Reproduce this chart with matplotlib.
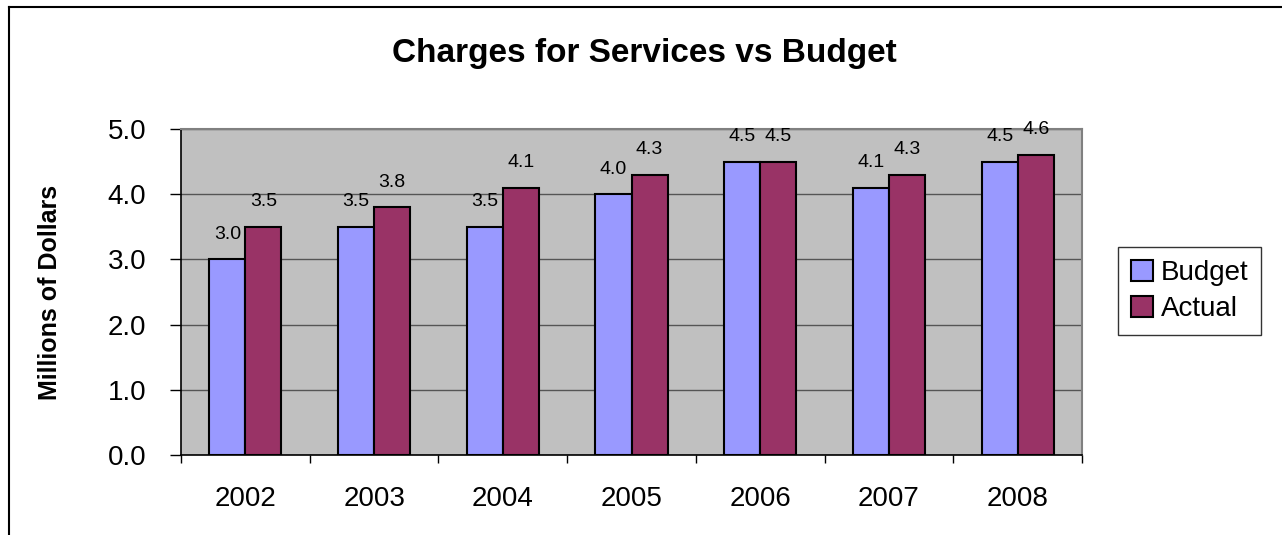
import matplotlib.pyplot as plt
import numpy as np
from matplotlib.lines import Line2D

# --------------------------------------
# Data
# --------------------------------------
years = ['2002', '2003', '2004', '2005', '2006', '2007', '2008']
budget = [3.0, 3.5, 3.5, 4.0, 4.5, 4.1, 4.5]
actual = [3.5, 3.8, 4.1, 4.3, 4.5, 4.3, 4.6]

plt.rcParams['font.family'] = ['Liberation Sans', 'DejaVu Sans']

fig = plt.figure(figsize=(12.82, 5.35), dpi=100)
ax = fig.add_axes([0.1412, 0.1495, 0.7028, 0.6094])

x = np.arange(len(years))
w = 0.28
b1 = ax.bar(x - w / 2, budget, w, color='#9999FF', edgecolor='black', linewidth=1.5,
            label='Budget', zorder=3)
b2 = ax.bar(x + w / 2, actual, w, color='#993366', edgecolor='black', linewidth=1.5,
            label='Actual', zorder=3)

# value labels above each bar
for bars, vals in ((b1, budget), (b2, actual)):
    for r, v in zip(bars, vals):
        ax.annotate(f'{v:.1f}', (r.get_x() + r.get_width() / 2, v),
                    xytext=(0, 12), textcoords='offset points',
                    ha='center', va='bottom', fontsize=14)

# axes styling
ax.set_facecolor('#C0C0C0')
ax.set_xlim(-0.5, len(years) - 0.5)
ax.set_ylim(0, 5)
ax.set_yticks(np.arange(0, 5.1, 1.0))
ax.set_yticklabels([f'{v:.1f}' for v in np.arange(0, 5.1, 1.0)], fontsize=20)
ax.set_xticks(x)
ax.set_xticklabels(years, fontsize=20)
ax.set_xticks(np.arange(-0.5, len(years)), minor=True)
ax.tick_params(axis='x', which='major', length=0, pad=22)
ax.tick_params(axis='x', which='minor', length=6, width=1, direction='out', color='black')
ax.tick_params(axis='y', length=8, width=1, direction='out', color='black', pad=17)
ax.yaxis.grid(True, color='#555555', linewidth=1)
ax.set_axisbelow(True)

for side in ('top', 'right'):
    ax.spines[side].set_color('#808080')
    ax.spines[side].set_linewidth(1.5)
for side in ('left', 'bottom'):
    ax.spines[side].set_color('black')
    ax.spines[side].set_linewidth(1.2)

ax.set_ylabel('Millions of Dollars', fontsize=18, fontweight='bold')
ax.yaxis.set_label_coords(-0.132, 0.5)

fig.text(0.503, 0.9, 'Charges for Services vs Budget', ha='center', va='center',
         fontsize=24, fontweight='bold')

leg = fig.legend(handles=[b1, b2], loc='center', bbox_to_anchor=(0.928, 0.456),
                 fontsize=20, frameon=True, fancybox=False, edgecolor='black',
                 handlelength=0.8, handleheight=0.8, handletextpad=0.3,
                 borderpad=0.45, labelspacing=0.35)
leg.get_frame().set_linewidth(1)

# outer chart border (left and top edges)
fx = 9 / 1282
fy = 1 - 7 / 535
fig.add_artist(Line2D([fx, fx], [0, fy], color='black', linewidth=1.5, transform=fig.transFigure))
fig.add_artist(Line2D([fx, 1], [fy, fy], color='black', linewidth=1.5, transform=fig.transFigure))

fig.savefig('out.png', dpi=100)
